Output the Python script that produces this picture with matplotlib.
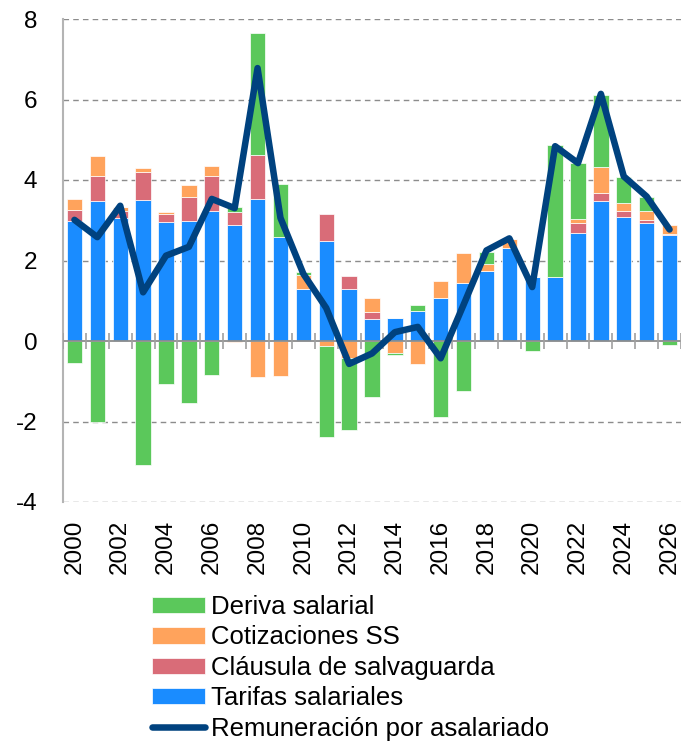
import matplotlib
matplotlib.use("Agg")
import matplotlib.pyplot as plt
import numpy as np

years = list(range(2000, 2027))
tarifas = [2.97, 3.48, 3.05, 3.50, 2.96, 2.98, 3.24, 2.89, 3.54, 2.58, 1.29, 2.48, 1.30, 0.55,
           0.57, 0.74, 1.06, 1.43, 1.75, 2.32, 1.60, 1.60, 2.69, 3.47, 3.07, 2.92, 2.64]
clausula = [0.28, 0.62, 0.17, 0.71, 0.19, 0.59, 0.86, 0.31, 1.07, 0.0, 0.0, 0.68, 0.31, 0.17,
            0.0, 0.0, 0.0, 0.0, 0.0, 0.0, 0.0, 0.0, 0.23, 0.20, 0.15, 0.09, 0.03]
cotizaciones = [0.29, 0.50, 0.12, 0.10, 0.05, 0.30, 0.26, -0.03, -0.89, -0.86, 0.35, -0.12, -0.42, 0.34,
                -0.30, -0.57, 0.44, 0.76, 0.16, 0.21, 0.0, 0.0, 0.12, 0.66, 0.22, 0.23, 0.20]
deriva = [-0.55, -2.00, 0.0, -3.09, -1.07, -1.55, -0.84, 0.14, 3.04, 1.33, 0.07, -2.26, -1.78, -1.39,
          -0.06, 0.15, -1.90, -1.23, 0.31, 0.0, -0.24, 3.27, 1.37, 1.78, 0.64, 0.34, -0.09]
remuneracion = [3.01, 2.58, 3.36, 1.21, 2.12, 2.34, 3.53, 3.30, 6.78, 3.06, 1.67, 0.82, -0.57, -0.31,
                0.22, 0.35, -0.43, 0.90, 2.25, 2.55, 1.34, 4.84, 4.42, 6.14, 4.09, 3.59, 2.77]

series = [
    ("Tarifas salariales", tarifas, "#1A8CFF"),
    ("Cláusula de salvaguarda", clausula, "#D96C78"),
    ("Cotizaciones SS", cotizaciones, "#FFA35C"),
    ("Deriva salarial", deriva, "#5BC85B"),
]

plt.rcParams['font.family'] = ['Liberation Sans', 'DejaVu Sans']

fig = plt.figure(figsize=(6.82, 7.43), dpi=100)
ax = fig.add_axes([63/682, 1-502/743, (681-63)/682, (502-19)/743])

x = np.arange(len(years))
pos = np.zeros(len(years))
neg = np.zeros(len(years))
handles = {}
for name, vals, col in series:
    v = np.array(vals)
    bottom = np.where(v >= 0, pos, neg)
    h = ax.bar(x, v, 0.67, bottom=bottom, color=col, edgecolor='white', linewidth=0.5, zorder=3,
               label=name)
    handles[name] = h
    pos = pos + np.where(v > 0, v, 0)
    neg = neg + np.where(v < 0, v, 0)

ln, = ax.plot(x, remuneracion, color='#00427F', lw=4.7, solid_capstyle='round',
              solid_joinstyle='round', zorder=5, label='Remuneración por asalariado')

ax.set_xlim(-0.5, len(years) - 0.5)
ax.set_ylim(-4, 8)
ax.set_yticks(range(-4, 9, 2))
ax.set_yticklabels([str(t) for t in range(-4, 9, 2)])
for yv in [-4, -2, 2, 4, 6, 8]:
    ax.axhline(yv, color='#8C8C8C', lw=1.0, ls=(0, (4, 3)), zorder=1)
ax.axhline(0, color='#8C8C8C', lw=1.3, zorder=4)
bounds = np.arange(-0.5, len(years), 1.0)
ax.vlines(bounds, -0.2, 0.2, color='#A0A0A0', lw=1.2, zorder=4)

ax.set_xticks(x[::2])
ax.set_xticklabels([str(y) for y in years[::2]], rotation=90, fontsize=17.5)
ax.tick_params(axis='x', length=0, pad=13)
ax.tick_params(axis='y', length=0, pad=18.5, labelsize=17.5)

for s in ['top', 'right', 'bottom']:
    ax.spines[s].set_visible(False)
ax.spines['left'].set_color('#B4B4B4')
ax.spines['left'].set_linewidth(1.5)

order = ["Deriva salarial", "Cotizaciones SS", "Cláusula de salvaguarda", "Tarifas salariales"]
hl = [handles[n] for n in order] + [ln]
ll = order + ['Remuneración por asalariado']
fig.legend(hl, ll, loc='upper left', bbox_to_anchor=(152/682, 1-595/743), frameon=False,
           fontsize=18.5, borderpad=0, borderaxespad=0, labelspacing=0.25, handlelength=2.05,
           handleheight=0.6, handletextpad=0.25)

fig.savefig("out.png", dpi=100)
